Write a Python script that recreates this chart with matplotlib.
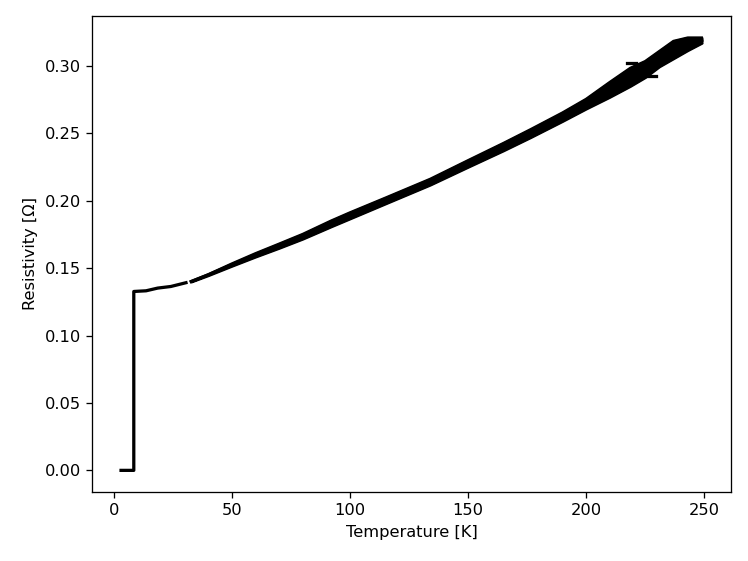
import numpy as np
import matplotlib.pyplot as plt

# low temperature part: superconducting step, then the thin curve up to the small gap
temp_low = [3.1, 8.5, 8.5, 13.7, 18.6, 24.2, 30.6]
rho_low = [0.0, 0.0, 0.1327, 0.1332, 0.1352, 0.1364, 0.1392]

# above the gap the scatter widens into a band: centre, lower and upper edge
temp_high = [32.8, 40, 50, 60, 70, 80, 92, 100, 115, 134, 150, 165, 176.5,
             190, 200, 210, 218.7, 225, 231, 237, 243, 249]
rho_mid = [0.1401, 0.1450, 0.1525, 0.1597, 0.1665, 0.1735, 0.1830, 0.1890,
           0.2000, 0.2140, 0.2275, 0.2400, 0.2500, 0.2622, 0.2716, 0.2825,
           0.2920, 0.2975, 0.3050, 0.3120, 0.3165, 0.3190]
rho_lower = [0.1399, 0.1446, 0.1516, 0.1584, 0.1649, 0.1717, 0.1808, 0.1867,
             0.1978, 0.2118, 0.2250, 0.2372, 0.2470, 0.2590, 0.2682, 0.2769,
             0.2850, 0.2915, 0.2995, 0.3055, 0.3115, 0.3170]
rho_upper = [0.1403, 0.1454, 0.1534, 0.1610, 0.1681, 0.1753, 0.1852, 0.1913,
             0.2022, 0.2162, 0.2300, 0.2428, 0.2530, 0.2654, 0.2755, 0.2880,
             0.2985, 0.3035, 0.3110, 0.3185, 0.3210, 0.3210]

# a couple of short outlier streaks near the top of the band
spur_temp = [[217.5, 221.0], [225.0, 229.5]]
spur_rho = [[0.3020, 0.3020], [0.2925, 0.2925]]

fig, ax = plt.subplots(figsize=(6.4, 4.8), dpi=116.875)
fig.subplots_adjust(left=0.123, right=0.977, top=0.9715, bottom=0.123)

ax.plot(temp_low, rho_low, color="black", lw=2)
ax.fill_between(temp_high, rho_lower, rho_upper, color="black", lw=1.5)
ax.plot(temp_high, rho_lower, color="black", lw=1.5)
ax.plot(temp_high, rho_upper, color="black", lw=1.5)
ax.plot(temp_high, rho_mid, color="black", lw=2)
for t, r in zip(spur_temp, spur_rho):
    ax.plot(t, r, color="black", lw=2)

ax.set_xlabel("Temperature [K]")
ax.set_ylabel("Resistivity [Ω]")

fig.savefig("out.png")
